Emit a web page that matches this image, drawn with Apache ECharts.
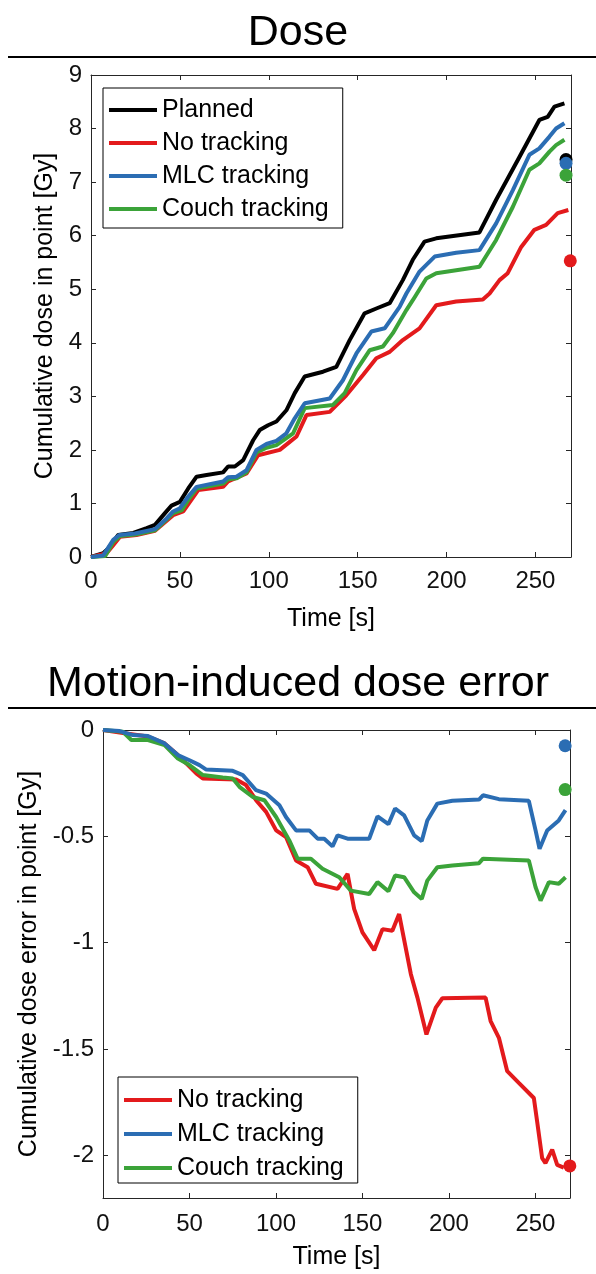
<!DOCTYPE html>
<html>
<head>
<meta charset="utf-8">
<script src="https://cdn.jsdelivr.net/npm/echarts@6/dist/echarts.min.js"></script>
<style>
  html, body { margin: 0; padding: 0; background: #fff; }
  #chart { width: 596px; height: 1274px; }
</style>
</head>
<body>
<div id="chart"></div>
<script>
// series names, legend order
const seriesNames = ['Planned', 'No tracking', 'MLC tracking', 'Couch tracking'];
const colors = ['#000000', '#e31a1c', '#2b6db3', '#3ba339'];

// tick values
const timeTicks = [0, 50, 100, 150, 200, 250];
const doseTicks = [0, 1, 2, 3, 4, 5, 6, 7, 8, 9];
const errorTicks = [-2, -1.5, -1, -0.5, 0];

// Dose panel: [time s, cumulative dose Gy]
const dosePlanned = [[0,0],[6.9,0.07],[9.7,0.16],[15.3,0.41],[23.8,0.45],[31.3,0.54],[36,0.6],[41.6,0.82],[45.3,0.96],[50,1.03],[54.7,1.28],[59.4,1.5],[65,1.53],[74.3,1.58],[77.1,1.69],[80.9,1.69],[85.6,1.81],[91.2,2.18],[94.9,2.37],[99.6,2.46],[104.3,2.53],[109.9,2.74],[114.6,3.06],[120.2,3.37],[130.5,3.46],[138,3.55],[145.5,4.05],[153.9,4.55],[160.5,4.64],[168,4.74],[175.4,5.17],[181,5.55],[187.6,5.89],[194.2,5.95],[218.5,6.06],[227.9,6.67],[241,7.47],[252.2,8.16],[256.9,8.22],[260.7,8.41],[266.3,8.47]];
const doseNoTracking = [[0,0],[8.8,0.07],[12.5,0.22],[16.3,0.38],[25.6,0.41],[36,0.49],[46.2,0.78],[51.9,0.85],[60.3,1.25],[74.3,1.31],[77.1,1.41],[87.5,1.56],[94,1.9],[106.2,2.0],[111.8,2.15],[115.6,2.25],[121.2,2.65],[134.3,2.71],[143.6,3.02],[153,3.4],[160.5,3.71],[168,3.83],[175.4,4.05],[184.8,4.27],[194.2,4.7],[205.4,4.77],[220.4,4.81],[224.2,4.92],[229.8,5.17],[234.4,5.3],[242,5.79],[249.4,6.11],[256,6.2],[262.5,6.42],[268.5,6.48]];
const doseMlc = [[0,0],[6.9,0.03],[12.5,0.32],[15.9,0.41],[24.7,0.44],[36,0.52],[42.5,0.72],[46.2,0.85],[50,0.91],[54.7,1.13],[59.4,1.31],[74.3,1.41],[77.1,1.49],[81.8,1.5],[87.5,1.62],[93.1,2.0],[98.7,2.11],[104.3,2.17],[109.9,2.31],[114.6,2.59],[120.2,2.87],[134.3,2.96],[141.7,3.3],[149.3,3.8],[157.7,4.21],[165.2,4.27],[169.8,4.49],[173.6,4.67],[177.4,4.92],[184.8,5.33],[193.3,5.61],[205.4,5.68],[218.5,5.73],[227.9,6.23],[237.3,6.85],[246.6,7.51],[252.2,7.63],[257.9,7.85],[261.6,8.0],[266.3,8.1]];
const doseCouch = [[0,0],[8,0.02],[12.5,0.28],[16.3,0.39],[25,0.42],[36,0.5],[42.5,0.7],[46.2,0.82],[51,0.87],[55,1.08],[59.4,1.28],[74.3,1.37],[77.1,1.45],[82,1.47],[87.5,1.58],[93.1,1.95],[98.7,2.04],[104.3,2.09],[109.9,2.22],[113.7,2.31],[120.2,2.78],[136.1,2.84],[142.7,3.06],[149.3,3.49],[156.7,3.86],[164.2,3.93],[169.8,4.18],[177.4,4.61],[181.1,4.8],[188.6,5.2],[194.2,5.3],[218.5,5.42],[227.9,5.92],[237.3,6.54],[246.6,7.23],[252.2,7.35],[257.9,7.57],[261.6,7.69],[266.3,7.79]];
// measured end points (dots)
const doseEndPlanned = [[267.2, 7.42]];
const doseEndNoTracking = [[269.6, 5.53]];
const doseEndMlc = [[267.2, 7.35]];
const doseEndCouch = [[267.2, 7.13]];

// Error panel: [time s, dose error Gy]
const errNoTracking = [[0,0],[13.5,-0.016],[26,-0.031],[35.6,-0.063],[43.3,-0.118],[48.1,-0.157],[53.9,-0.204],[57.7,-0.228],[77,-0.233],[82.7,-0.259],[88.5,-0.33],[94.3,-0.385],[100.1,-0.472],[105.8,-0.503],[111.6,-0.613],[118.3,-0.645],[123.1,-0.723],[135.6,-0.747],[141.4,-0.676],[145.2,-0.841],[150,-0.951],[156.8,-1.035],[161.6,-0.936],[167.3,-0.944],[171.2,-0.865],[178,-1.148],[181.8,-1.258],[187,-1.431],[192.4,-1.305],[196.2,-1.261],[221.2,-1.258],[224.1,-1.368],[228.9,-1.447],[233.7,-1.604],[240.4,-1.659],[249.1,-1.73],[251,-1.84],[253.9,-2.013],[255.8,-2.036],[259.7,-1.973],[262.6,-2.044],[266.4,-2.057]];
const errMlc = [[0,0],[9.6,-0.005],[17.3,-0.024],[26,-0.028],[35.6,-0.063],[43.3,-0.118],[50,-0.142],[55.8,-0.165],[59.7,-0.186],[75,-0.192],[80.8,-0.212],[88.5,-0.283],[94.3,-0.299],[102,-0.354],[105.8,-0.409],[111.6,-0.472],[119.3,-0.472],[124.1,-0.511],[127.9,-0.511],[132.7,-0.547],[135.6,-0.495],[141.4,-0.511],[153.9,-0.511],[158.7,-0.406],[165,-0.443],[168.9,-0.369],[174.1,-0.401],[179.9,-0.495],[184.3,-0.522],[187.5,-0.425],[193.3,-0.346],[202,-0.333],[217.4,-0.327],[219.7,-0.307],[228.9,-0.325],[246.2,-0.333],[250.1,-0.472],[252.4,-0.558],[256.8,-0.472],[263.5,-0.425],[267.4,-0.377]];
const errCouch = [[0,0],[11.5,-0.008],[16.4,-0.047],[26,-0.047],[35.6,-0.071],[43.3,-0.134],[50,-0.165],[57.7,-0.212],[69.2,-0.223],[75,-0.228],[78.9,-0.267],[86.6,-0.315],[93.3,-0.33],[100.1,-0.409],[107.7,-0.519],[112.5,-0.605],[120.2,-0.605],[126.9,-0.652],[136.6,-0.692],[143.3,-0.755],[153.9,-0.771],[158.7,-0.715],[165,-0.758],[168.9,-0.684],[174.1,-0.692],[179.9,-0.763],[184.3,-0.794],[187.5,-0.708],[193.3,-0.645],[202,-0.637],[217.4,-0.626],[219.7,-0.605],[246.2,-0.613],[250.1,-0.739],[253,-0.802],[257.8,-0.715],[263.5,-0.723],[267.4,-0.692]];
const errEndNoTracking = [[269.9, -2.049]];
const errEndMlc = [[267.2, -0.074]];
const errEndCouch = [[267.2, -0.28]];

const FONT = '"Liberation Sans", Arial, sans-serif';
const AXIS = '#262626';

function xAx(grid, pos, withLabels, margin, gap) {
    return {
        type: 'value', gridIndex: grid, position: pos, min: 0, max: 270, interval: 50,
        name: withLabels ? 'Time [s]' : '', nameLocation: 'middle', nameGap: gap,
        nameTextStyle: { fontFamily: FONT, fontSize: 25, color: '#000' },
        axisLine: { show: true, onZero: false, lineStyle: { color: AXIS, width: 1 } },
        axisTick: { show: true, inside: true, length: 5, customValues: timeTicks, lineStyle: { color: AXIS } },
        axisLabel: { show: withLabels, margin: margin, customValues: timeTicks, fontFamily: FONT, fontSize: 24, color: '#111' },
        splitLine: { show: false }
    };
}

function yAx(grid, pos, withLabels, min, max, ticks, name, gap) {
    return {
        type: 'value', gridIndex: grid, position: pos, min: min, max: max,
        name: withLabels ? name : '', nameLocation: 'middle', nameGap: gap,
        nameTextStyle: { fontFamily: FONT, fontSize: 25, color: '#000' },
        axisLine: { show: true, onZero: false, lineStyle: { color: AXIS, width: 1 } },
        axisTick: { show: true, inside: true, length: 5, customValues: ticks, lineStyle: { color: AXIS } },
        axisLabel: { show: withLabels, margin: 9, customValues: ticks, fontFamily: FONT, fontSize: 24, color: '#111' },
        splitLine: { show: false }
    };
}

function lineS(name, data, color, xi, yi, z) {
    return {
        name: name, type: 'line', data: data, xAxisIndex: xi, yAxisIndex: yi,
        showSymbol: false, symbol: 'none', z: z, animation: false,
        lineStyle: { color: color, width: 4 }, itemStyle: { color: color }
    };
}

function dotS(name, data, color, xi, yi, z) {
    return {
        name: name, type: 'scatter', data: data, xAxisIndex: xi, yAxisIndex: yi,
        symbolSize: 13, clip: false, z: z, animation: false,
        itemStyle: { color: color, opacity: 1 }
    };
}

function legendBox(names, left, top, padding, lineH, gap) {
    return {
        data: names, orient: 'vertical', left: left, top: top,
        icon: 'rect', itemWidth: 48, itemHeight: 4, itemGap: gap,
        padding: padding, borderColor: '#000', borderWidth: 1, backgroundColor: '#fff',
        textStyle: { fontFamily: FONT, fontSize: 25, color: '#000', lineHeight: lineH }
    };
}

const chart = echarts.init(document.getElementById('chart'));
chart.setOption({
    backgroundColor: '#fff',
    animation: false,
    title: [
        { text: 'Dose', left: 'center', top: 7, textStyle: { fontFamily: FONT, fontSize: 43, fontWeight: 'normal', color: '#000' } },
        { text: 'Motion-induced dose error', left: 'center', top: 658, textStyle: { fontFamily: FONT, fontSize: 43, fontWeight: 'normal', color: '#000' } }
    ],
    graphic: [
        { type: 'line', shape: { x1: 8, y1: 57, x2: 596, y2: 57 }, style: { stroke: '#000', lineWidth: 2 } },
        { type: 'line', shape: { x1: 8, y1: 708, x2: 596, y2: 708 }, style: { stroke: '#000', lineWidth: 2 } }
    ],
    grid: [
        { left: 91, top: 75, width: 480, height: 482 },
        { left: 103, top: 730, width: 467, height: 468 }
    ],
    xAxis: [
        xAx(0, 'bottom', true, 12, 50),
        xAx(0, 'top', false, 12, 50),
        xAx(1, 'bottom', true, 14, 47),
        xAx(1, 'top', false, 14, 47)
    ],
    yAxis: [
        yAx(0, 'left', true, 0, 9, doseTicks, 'Cumulative dose in point [Gy]', 33),
        yAx(0, 'right', false, 0, 9, doseTicks, '', 33),
        yAx(1, 'left', true, -2.2, 0, errorTicks, 'Cumulative dose error in point [Gy]', 45),
        yAx(1, 'right', false, -2.2, 0, errorTicks, '', 45)
    ],
    legend: [
        legendBox(seriesNames, 103, 88, [9, 14, 6, 6], 26, 7),
        legendBox(seriesNames.slice(1), 118, 1077, [10, 14, 2, 6], 26, 8)
    ],
    series: [
        lineS(seriesNames[0], dosePlanned, colors[0], 0, 0, 2),
        lineS(seriesNames[1], doseNoTracking, colors[1], 0, 0, 3),
        lineS(seriesNames[3], doseCouch, colors[3], 0, 0, 4),
        lineS(seriesNames[2], doseMlc, colors[2], 0, 0, 5),
        dotS('Planned end', doseEndPlanned, colors[0], 0, 0, 6),
        dotS('No tracking end', doseEndNoTracking, colors[1], 0, 0, 6),
        dotS('MLC end', doseEndMlc, colors[2], 0, 0, 7),
        dotS('Couch end', doseEndCouch, colors[3], 0, 0, 8),

        lineS(seriesNames[1], errNoTracking, colors[1], 2, 2, 3),
        lineS(seriesNames[3], errCouch, colors[3], 2, 2, 4),
        lineS(seriesNames[2], errMlc, colors[2], 2, 2, 5),
        dotS('No tracking end 2', errEndNoTracking, colors[1], 2, 2, 6),
        dotS('MLC end 2', errEndMlc, colors[2], 2, 2, 6),
        dotS('Couch end 2', errEndCouch, colors[3], 2, 2, 6)
    ]
});
</script>
</body>
</html>
